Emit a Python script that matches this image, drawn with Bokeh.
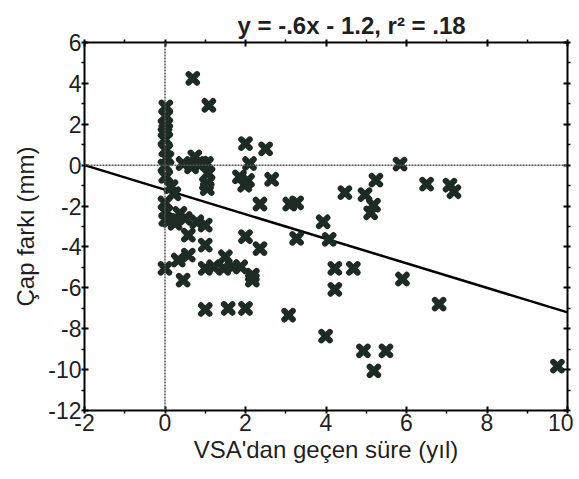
from bokeh.plotting import figure
from bokeh.models import Range1d, LinearAxis, Span, Title, ColumnDataSource, FixedTicker
from bokeh.embed import file_html
from bokeh.resources import INLINE

# data (years since VSA, diameter difference in mm)
x_years = [0.02, 0.02, 0.0, 0.02, 0.0, 0.02, 0.05, 0.0, 0.02, 0.15, 0.22, 0.0, 0.02, 0.02, 0.1,
           0.45, 0.66, 0.74, 0.9, 1.03, 1.07, 1.03, 1.05,
           0.69, 1.09, 2.0, 2.5, 2.1, 1.85, 1.98, 2.05, 2.65, 2.36, 3.1, 3.27,
           0.37, 0.25, 0.79, 1.0, 0.58, 1.0, 0.5,
           0.0, 0.33, 0.58, 0.45, 1.0, 1.21, 1.5, 1.46, 1.67, 1.88, 2.17, 2.17, 2.0, 2.36,
           1.0, 1.57, 2.0, 3.07, 3.27,
           3.93, 4.08, 4.22, 4.68, 4.22, 5.9, 6.81, 3.99, 4.93, 5.49, 5.19, 9.75,
           5.84, 5.24, 4.47, 4.97, 5.18, 5.11, 6.5, 7.08, 7.18]
y_diff = [2.85, 2.4, 1.95, 1.7, 1.25, 0.75, 0.35, -0.05, -0.55, -1.05, -1.4, -1.85, -2.3, -2.65, -2.7,
          0.08, -0.08, 0.4, 0.1, 0.08, -0.4, -0.9, -1.15,
          4.24, 2.93, 1.05, 0.8, 0.08, -0.57, -0.98, -0.75, -0.69, -1.9, -1.9, -1.85,
          -2.36, -2.85, -2.77, -2.93, -3.42, -3.91, -2.6,
          -5.05, -4.64, -4.4, -5.62, -5.05, -4.97, -4.48, -5.05, -4.97, -4.97, -5.38, -5.62, -3.5, -4.08,
          -7.06, -7.01, -7.01, -7.34, -3.58,
          -2.77, -3.63, -5.05, -5.05, -6.08, -5.57, -6.8, -8.36, -9.08, -9.08, -10.06, -9.83,
          0.05, -0.73, -1.34, -1.44, -1.96, -2.33, -0.93, -0.98, -1.3]
slope = -0.6
intercept = -1.2
x_limits = [-2, 10]
y_limits = [-12, 6]
x_ticks = [-2, 0, 2, 4, 6, 8, 10]
x_tick_labels = ["-2", "0", "2", "4", "6", "8", "10"]
x_minor = [-1, 1, 3, 5, 7, 9]
y_ticks = [-12, -10, -8, -6, -4, -2, 0, 2, 4, 6]
y_tick_labels = ["-12", "-10", "-8", "-6", "-4", "-2", "0", "2", "4", "6"]
y_minor = [-11, -9, -7, -5, -3, -1, 1, 3, 5]

FONT = "Liberation Sans"
TXT = "#1f1f1f"
INK = "#1e2b25"

p = figure(frame_width=483, frame_height=368, output_backend="svg", toolbar_location=None,
           x_range=Range1d(*x_limits), y_range=Range1d(*y_limits),
           min_border_left=84, min_border_right=6, min_border_top=42, min_border_bottom=55,
           x_axis_label="VSA'dan geçen süre (yıl)", y_axis_label="Çap farkı (mm)")
p.outline_line_color = None
p.grid.visible = False
p.background_fill_color = "white"

def style(ax, ticks, minor, labels=None):
    ax.ticker = FixedTicker(ticks=ticks, minor_ticks=minor)
    ax.axis_line_width = 2
    ax.axis_line_color = "black"
    ax.major_tick_line_width = 2
    ax.major_tick_line_color = "black"
    ax.minor_tick_line_color = "black"
    ax.minor_tick_line_width = 1.5
    ax.major_tick_in = 4
    ax.major_tick_out = 3
    ax.minor_tick_in = 0
    ax.minor_tick_out = 3
    if labels is not None:
        ax.major_label_overrides = {t: s for t, s in zip(ticks, labels)}
        ax.major_label_text_font = FONT
        ax.major_label_text_font_size = "23px"
        ax.major_label_text_color = TXT
        ax.major_label_standoff = 0
        ax.axis_label_text_font = FONT
        ax.axis_label_text_font_size = "24px"
        ax.axis_label_text_font_style = "normal"
        ax.axis_label_text_color = TXT
        ax.axis_label_standoff = 2
    else:
        ax.major_label_text_font_size = "1px"
        ax.major_label_text_color = None
        ax.major_label_standoff = 0
        ax.axis_label = None

style(p.xaxis[0], x_ticks, x_minor, x_tick_labels)
style(p.yaxis[0], y_ticks, y_minor, y_tick_labels)
p.yaxis[0].axis_label_standoff = 6

ax_r = LinearAxis()
style(ax_r, y_ticks, y_minor)
p.add_layout(ax_r, "right")
ax_t = LinearAxis()
style(ax_t, x_ticks, x_minor)
p.add_layout(ax_t, "above")

t = Title(text="y = -.6x - 1.2, r² = .18", align="left", offset=153, standoff=2,
          text_font=FONT, text_font_size="24px", text_font_style="bold", text_color=TXT)
p.add_layout(t, "above")

p.add_layout(Span(location=0, dimension="width", line_color="#555555", line_dash="2 1", line_width=1.5))
p.add_layout(Span(location=0, dimension="height", line_color="#555555", line_dash="2 1", line_width=1.5))

fit_x = x_limits
fit_y = [slope * v + intercept for v in fit_x]
p.line(fit_x, fit_y, line_color="black", line_width=2.5)

src = ColumnDataSource(dict(x=x_years, y=y_diff))
p.scatter("x", "y", source=src, marker="x", size=12, line_width=6, line_cap="round",
          line_color=INK)

open("out.html", "w").write(file_html(p, INLINE))
